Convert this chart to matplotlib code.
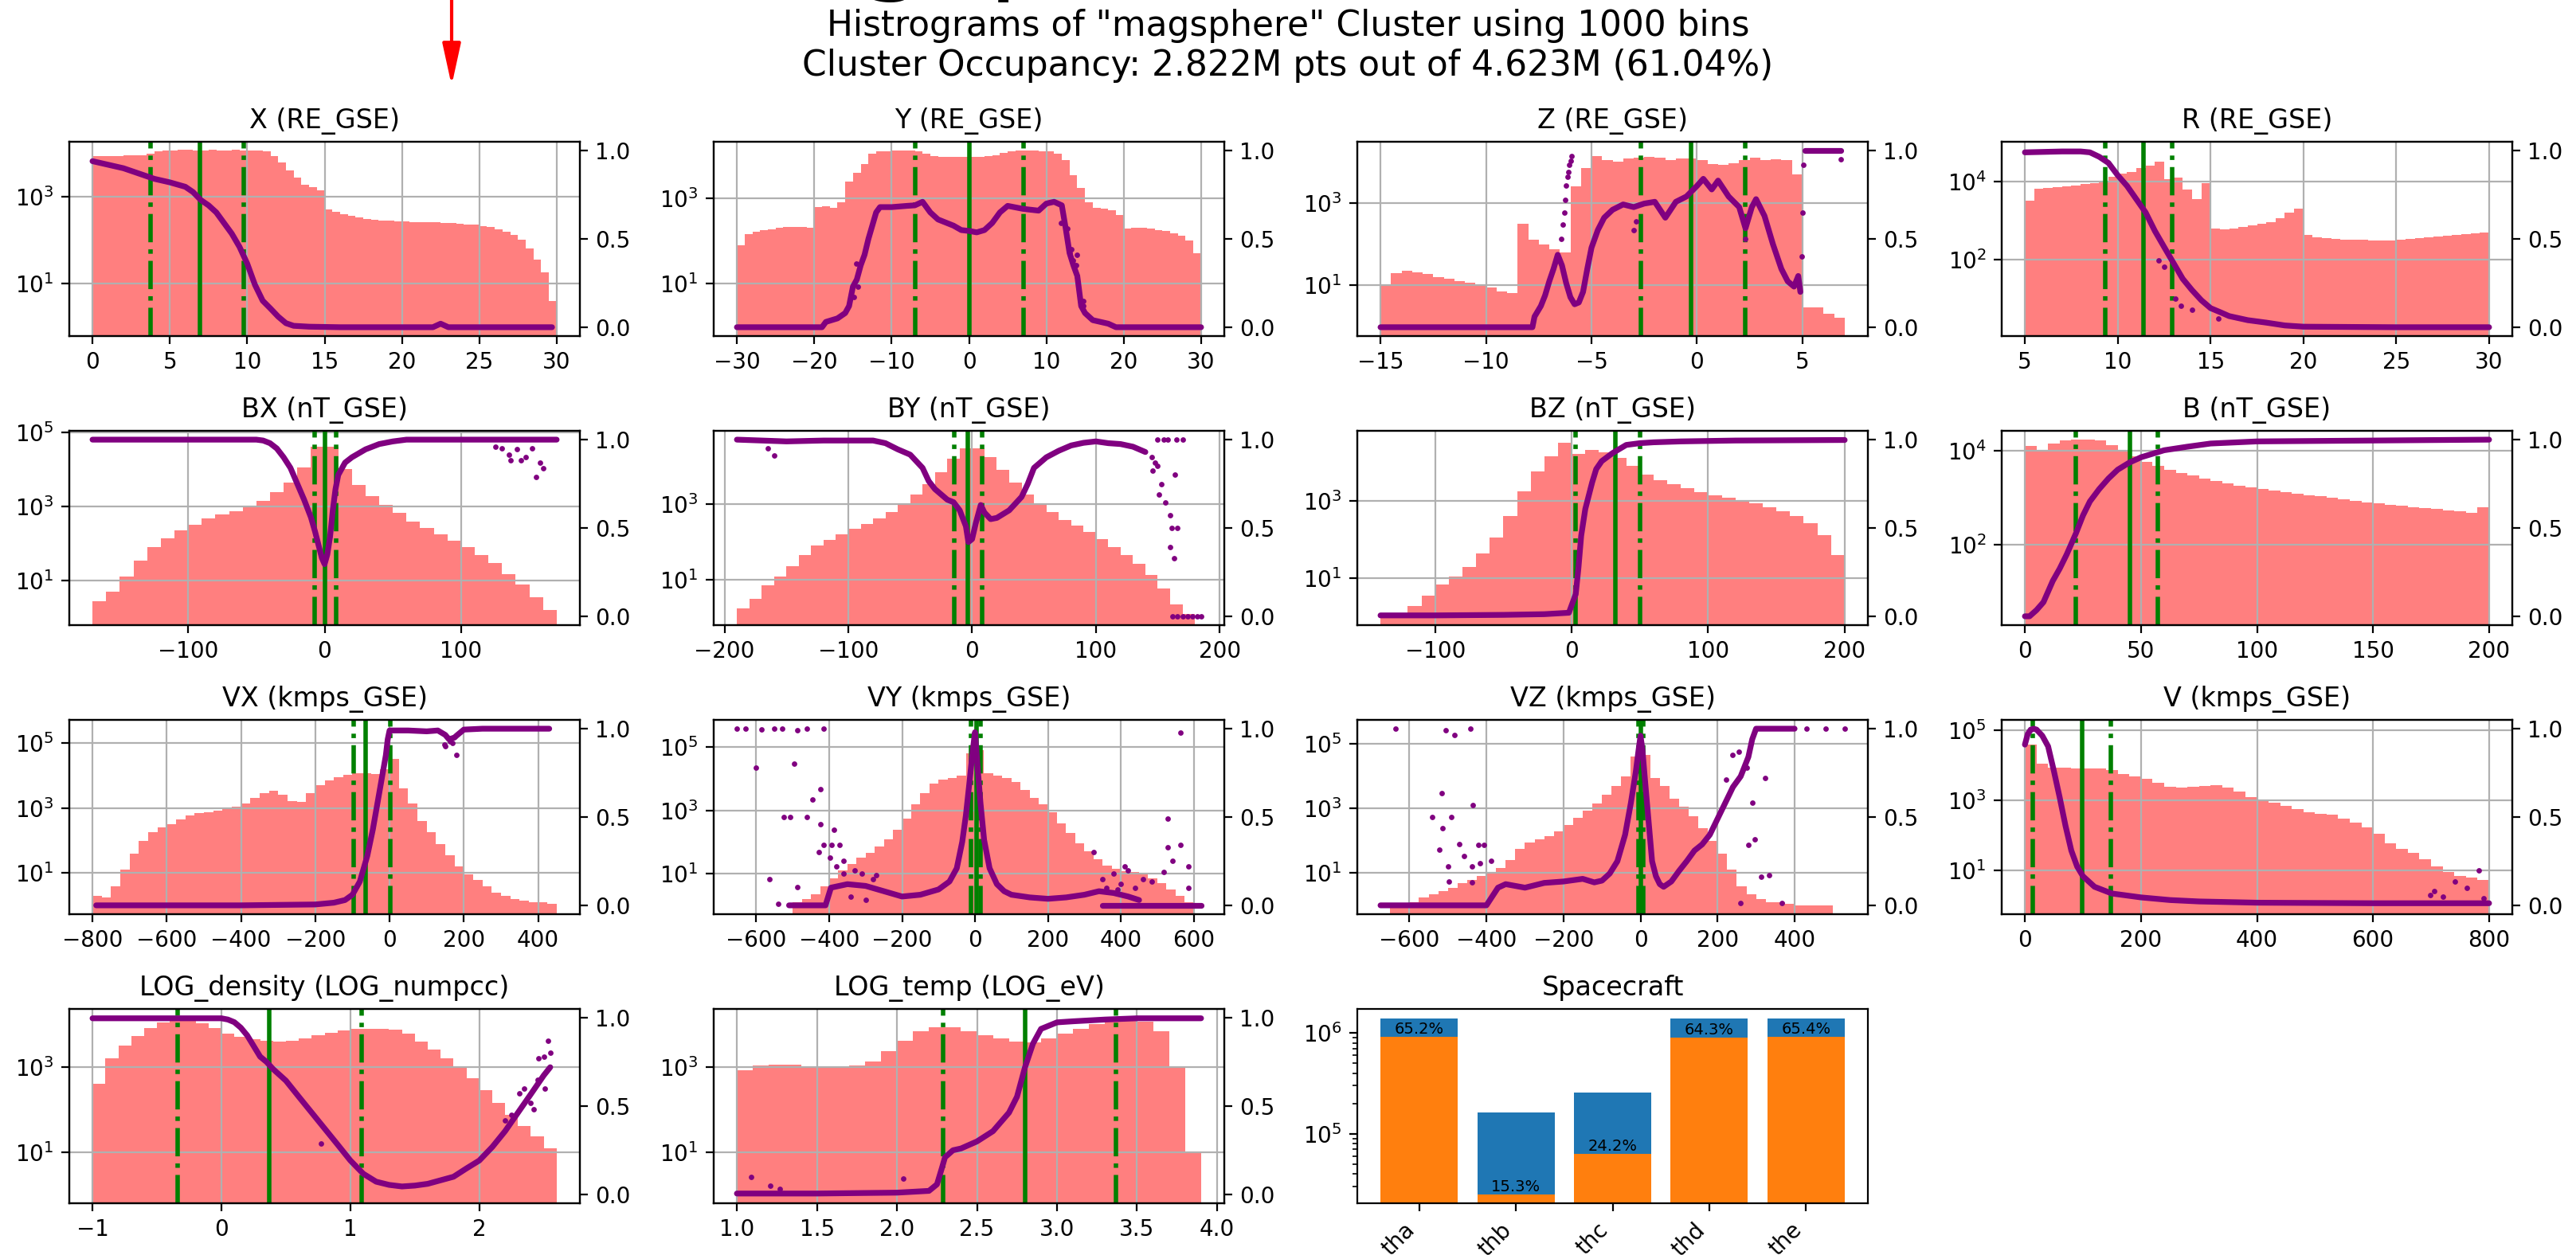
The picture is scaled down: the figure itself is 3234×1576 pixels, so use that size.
import numpy as np
import matplotlib
matplotlib.use("Agg")
import matplotlib.pyplot as plt
from matplotlib.patches import FancyArrowPatch
from matplotlib.ticker import MultipleLocator, FixedLocator, NullLocator

# ------------------------------------------------------------------ data
# histogram counts are stored as log10(count) per uniform bin over the range
X_range = (0, 30)
X_hist = [3.95, 3.95, 3.95, 3.95, 3.96, 3.96, 3.97, 4.0, 4.05, 4.07,
          4.08, 4.09, 4.09, 4.08, 4.08, 4.09, 4.08, 4.08, 4.09, 4.08, 4.08, 4.07,
          4.05, 3.95, 3.8, 3.62, 3.45, 3.28, 3.22, 3.15,
          2.72, 2.66, 2.6, 2.56, 2.52, 2.49, 2.47, 2.46, 2.45, 2.44,
          2.43, 2.42, 2.42, 2.41, 2.41, 2.4, 2.39, 2.38, 2.37, 2.36,
          2.33, 2.3, 2.26, 2.2, 2.12, 2.02, 1.8, 1.55, 1.25, 0.6]
X_frac = [(0, 0.94), (1, 0.92), (2, 0.90), (3, 0.87), (4, 0.84), (5, 0.82), (6, 0.795),
          (6.5, 0.765), (7, 0.72), (7.5, 0.69), (8, 0.65), (8.5, 0.59), (9, 0.53),
          (9.5, 0.455), (10, 0.36), (10.5, 0.24), (11, 0.15), (11.5, 0.106), (12, 0.06),
          (12.5, 0.023), (13, 0.008), (14, 0.003), (16, 0.0), (22, 0.0), (22.5, 0.02),
          (23, 0.0), (29.7, 0.0)]
X_out = []
X_q = (3.76, 6.95, 9.75)
X_ylog = (-0.22, 4.28)
X_step = 5

Y_range = (-30, 30)
Y_hist = [1.9, 2.15, 2.22, 2.25, 2.27, 2.3, 2.32, 2.33, 2.32, 2.3,
          2.8, 2.82, 2.77, 2.9, 3.4, 3.6, 3.8, 4.05, 4.1, 4.11,
          4.12, 4.12, 4.12, 4.1, 4.05, 3.99, 3.98, 3.97, 3.97, 3.97,
          3.97, 3.98, 3.99, 4.02, 4.07, 4.11, 4.12, 4.12, 4.12, 4.11,
          4.1, 4.05, 3.9, 3.55, 3.25, 2.9, 2.78, 2.75, 2.72, 2.6,
          2.28, 2.3, 2.3, 2.28, 2.26, 2.24, 2.18, 2.12, 2.0, 1.7]
Y_frac = [(-30, 0), (-19, 0), (-18.5, 0.03), (-17, 0.05), (-16, 0.08), (-15.5, 0.12),
          (-15, 0.23), (-14.5, 0.27), (-14, 0.35), (-13.5, 0.41), (-13, 0.5), (-12.5, 0.575),
          (-12, 0.65), (-11.5, 0.68), (-10, 0.68), (-8, 0.687), (-7, 0.69), (-6, 0.71),
          (-5, 0.65), (-4, 0.61), (-2, 0.575), (-1, 0.55), (0, 0.545), (1, 0.537), (2, 0.55),
          (3, 0.59), (4, 0.65), (5, 0.687), (7, 0.67), (9, 0.66), (10, 0.70), (11, 0.71),
          (12, 0.69), (12.5, 0.56), (13, 0.42), (13.5, 0.35), (14, 0.29), (14.5, 0.12),
          (15, 0.08), (16, 0.04), (17, 0.03), (18, 0.02), (19, 0), (30, 0)]
Y_out = [(11.9, 0.59), (12.7, 0.56), (13.0, 0.42), (13.2, 0.44), (14.0, 0.41), (13.8, 0.35),
         (13.4, 0.38), (14.0, 0.29), (14.8, 0.15), (14.8, 0.12), (-14.9, 0.17),
         (-14.6, 0.36), (-14.4, 0.23)]
Y_q = (-7.0, 0.1, 7.1)
Y_ylog = (-0.24, 4.33)
Y_step = 10

Z_range = (-15, 7)
Z_hist = [1.0, 1.3, 1.35, 1.32, 1.28, 1.2, 1.15, 1.1, 1.05, 1.0,
          0.95, 0.85, 0.8, 2.5, 2.1, 1.98, 1.88, 1.8,
          3.4, 3.85, 4.15, 4.05, 4.0, 4.08, 4.1, 4.12, 4.1, 4.05,
          4.08, 4.08, 4.05, 3.95, 3.92, 3.97, 4.05, 4.1, 4.05, 4.07,
          4.05, 3.7, 0.45, 0.45, 0.3, 0.2]
Z_frac = [(-15, 0), (-12, 0), (-9, 0), (-7.8, 0), (-7.7, 0.06), (-7.4, 0.12), (-7.2, 0.18),
          (-7.0, 0.26), (-6.8, 0.33), (-6.6, 0.41), (-6.4, 0.35), (-6.2, 0.25), (-6.0, 0.17),
          (-5.8, 0.13), (-5.6, 0.14), (-5.4, 0.2), (-5.2, 0.33), (-5.0, 0.45), (-4.7, 0.55),
          (-4.4, 0.62), (-4.0, 0.665), (-3.5, 0.695), (-3.0, 0.68), (-2.5, 0.7), (-2.0, 0.71),
          (-1.5, 0.62), (-1.0, 0.71), (-0.5, 0.74), (0, 0.80), (0.3, 0.84), (0.7, 0.78),
          (1.0, 0.83), (1.5, 0.74), (2.0, 0.68), (2.3, 0.56), (2.6, 0.68), (2.8, 0.725),
          (3.2, 0.63), (3.6, 0.47), (4.0, 0.33), (4.3, 0.26), (4.6, 0.23), (4.8, 0.29),
          (4.9, 0.2)]
Z_frac2 = [(5.1, 1.0), (6.8, 1.0)]
Z_out = [(-6.45, 0.5), (-6.35, 0.58), (-6.3, 0.65), (-6.25, 0.72), (-6.2, 0.8), (-6.15, 0.85),
         (-6.1, 0.88), (-6.05, 0.92), (-6.0, 0.94), (-5.95, 0.97), (-3.0, 0.55), (-2.9, 0.6),
         (2.3, 0.5), (4.95, 0.4), (5.0, 0.65), (5.05, 0.92), (6.8, 0.95)]
Z_q = (-2.67, -0.3, 2.3)
Z_ylog = (-0.24, 4.49)
Z_step = 5

R_range = (5, 30)
R_hist = [3.5, 3.82, 3.84, 3.86, 3.88, 3.9, 3.93, 3.96, 4.02, 4.12,
          4.2, 4.25, 4.35, 4.4, 4.5, 4.05, 4.1, 3.8, 3.55, 3.95,
          2.8, 2.78, 2.8, 2.84, 2.88, 2.92, 2.95, 3.05, 3.2, 3.3,
          2.62, 2.57, 2.54, 2.52, 2.51, 2.5, 2.5, 2.49, 2.49, 2.49,
          2.5, 2.52, 2.54, 2.56, 2.58, 2.6, 2.62, 2.64, 2.66, 2.69]
R_frac = [(5, 0.99), (7, 0.995), (8, 0.995), (8.5, 0.99), (9, 0.965), (9.5, 0.93), (10, 0.86),
          (10.5, 0.8), (11, 0.725), (11.5, 0.65), (12, 0.545), (12.5, 0.454), (13, 0.364),
          (13.5, 0.274), (14, 0.21), (14.5, 0.153), (15, 0.108), (15.5, 0.086), (16, 0.063),
          (17, 0.04), (18, 0.026), (19, 0.01), (20, 0.003), (25, 0.0), (30, 0.0)]
R_out = [(12.2, 0.38), (12.5, 0.34), (13.1, 0.16), (13.4, 0.12), (14.0, 0.1), (15.4, 0.05)]
R_q = (9.32, 11.39, 12.93)
R_ylog = (0.03, 5.02)
R_step = 5

BX_range = (-170, 170)
BX_hist = [0.45, 0.7, 1.1, 1.55, 1.9, 2.15, 2.35, 2.5, 2.68, 2.78,
           2.88, 2.98, 3.15, 3.38, 3.65, 4.05, 4.6,
           4.6, 4.0, 3.58, 3.27, 3.05, 2.82, 2.6, 2.42, 2.25,
           2.08, 1.9, 1.7, 1.48, 1.18, 0.9, 0.55, 0.2]
BX_frac = [(-170, 1.0), (-50, 1.0), (-45, 0.995), (-40, 0.98), (-35, 0.95), (-30, 0.9),
           (-25, 0.84), (-20, 0.75), (-15, 0.66), (-10, 0.56), (-7, 0.48), (-4, 0.39),
           (-2, 0.33), (0, 0.295), (2, 0.35), (4, 0.45), (6, 0.6), (8, 0.72), (10, 0.8),
           (15, 0.87), (20, 0.9), (30, 0.945), (40, 0.975), (50, 0.99), (60, 1.0), (170, 1.0)]
BX_out = [(135, 0.915), (136.5, 0.885), (141, 0.945), (144, 0.885), (147.5, 0.9), (152, 0.95),
          (155, 0.79), (158, 0.87), (160, 0.84), (130, 0.95), (125, 0.96)]
BX_q = (-7.2, 0.0, 8.4)
BX_ylog = (-0.2, 5.04)
BX_step = 100

BY_range = (-190, 180)
BY_hist = [0.25, 0.5, 0.85, 1.08, 1.35, 1.65, 1.9, 2.06, 2.2, 2.34,
           2.48, 2.62, 2.78, 2.98, 3.24, 3.52, 3.83, 4.18, 4.45, 4.45,
           4.22, 3.9, 3.55, 3.24, 3.0, 2.78, 2.58, 2.42, 2.25, 2.08,
           1.87, 1.65, 1.42, 1.12, 0.78, 0.35, 0.1]
BY_frac = [(-190, 1.0), (-170, 0.995), (-150, 0.99), (-120, 0.995), (-100, 0.995),
           (-80, 0.995), (-70, 0.98), (-60, 0.945), (-50, 0.915), (-40, 0.84), (-35, 0.765),
           (-30, 0.72), (-20, 0.66), (-15, 0.646), (-10, 0.6), (-5, 0.51), (-3, 0.42),
           (0, 0.437), (3, 0.527), (7, 0.63), (10, 0.587), (15, 0.55), (20, 0.557), (30, 0.6),
           (40, 0.676), (45, 0.75), (50, 0.84), (60, 0.9), (70, 0.937), (80, 0.967),
           (90, 0.982), (100, 0.99), (110, 0.98), (120, 0.975), (130, 0.96), (140, 0.93)]
BY_out = [(-165, 0.95), (-160, 0.91), (146, 0.825), (151, 0.69), (153, 0.75), (156, 0.646),
          (160, 0.57), (161, 0.5), (160, 0.39), (163, 0.33), (166, 0.5), (164, 0.8),
          (150, 1.0), (155, 1.0), (158, 1.0), (165, 1.0), (170, 1.0), (145, 0.9),
          (148, 0.87), (150, 0.85), (162, 0.0), (166, 0.0), (170, 0.0), (174, 0.0),
          (178, 0.0), (182, 0.0), (185, 0.0)]
BY_q = (-14.5, -3.4, 8.4)
BY_ylog = (-0.19, 4.92)
BY_step = 100

BZ_range = (-140, 200)
BZ_hist = [0.0, 0.1, 0.3, 0.55, 0.85, 1.05, 1.3, 1.65, 2.05, 2.6,
           3.25, 3.75, 4.15, 4.5, 4.2, 4.3, 4.25, 4.1, 3.9, 3.68,
           3.52, 3.42, 3.32, 3.22, 3.14, 3.07, 3.0, 2.93, 2.84, 2.74,
           2.6, 2.42, 2.12, 1.6]
BZ_frac = [(-140, 0.005), (-100, 0.005), (-50, 0.008), (-20, 0.012), (-2, 0.02), (3, 0.125),
           (5, 0.275), (7, 0.456), (10, 0.607), (12, 0.667), (15, 0.757), (18, 0.833),
           (22, 0.878), (30, 0.924), (40, 0.97), (50, 0.98), (60, 0.985), (80, 0.99),
           (120, 0.995), (200, 0.998)]
BZ_out = []
BZ_q = (3.0, 32.0, 50.0)
BZ_ylog = (-0.2, 4.8)
BZ_step = 100

B_range = (0, 200)
B_hist = [4.1, 3.98, 4.15, 4.21, 4.24, 4.24, 4.21, 4.12, 4.0, 3.88,
          3.77, 3.68, 3.6, 3.53, 3.47, 3.4, 3.35, 3.3, 3.26, 3.22,
          3.19, 3.16, 3.12, 3.09, 3.06, 3.03, 3.0, 2.97, 2.94, 2.91,
          2.88, 2.85, 2.83, 2.8, 2.78, 2.76, 2.74, 2.71, 2.68, 2.8]
B_frac = [(0, 0.0), (2, 0.0), (5, 0.035), (8, 0.08), (10, 0.14), (12, 0.2), (15, 0.27),
          (18, 0.35), (20, 0.41), (22, 0.47), (25, 0.57), (28, 0.65), (32, 0.72), (36, 0.78),
          (40, 0.83), (45, 0.87), (50, 0.9), (60, 0.94), (70, 0.96), (80, 0.978),
          (100, 0.99), (150, 0.995), (200, 1.0)]
B_out = []
B_q = (21.9, 45.1, 57.1)
B_ylog = (0.305, 4.42)
B_step = 50
B_yticks = [1e2, 1e4]

VX_range = (-800, 450)
VX_hist = [0.3, 0.25, 0.6, 1.1, 1.6, 2.0, 2.25, 2.4, 2.5, 2.65,
           2.78, 2.84, 2.88, 2.92, 2.97, 3.05, 3.15, 3.3, 3.45, 3.52,
           3.4, 3.22, 3.2, 3.45, 3.7, 3.85, 3.95, 4.02, 4.07, 4.06,
           4.05, 4.2, 4.5, 3.6, 3.15, 2.6, 2.25, 1.9, 1.55, 1.2,
           0.95, 0.8, 0.6, 0.4, 0.3, 0.2, 0.15, 0.1, 0.1, 0.05]
VX_frac = [(-790, 0.0), (-400, 0.0), (-200, 0.005), (-150, 0.015), (-120, 0.03), (-100, 0.06),
           (-80, 0.135), (-60, 0.28), (-45, 0.43), (-30, 0.61), (-20, 0.73), (-10, 0.85),
           (-5, 0.94), (0, 0.99), (10, 0.99), (50, 0.99), (100, 0.985), (130, 0.99),
           (150, 0.965), (160, 0.94), (175, 0.95), (180, 0.96), (200, 0.995), (250, 1.0),
           (430, 1.0)]
VX_out = [(148, 0.91), (150, 0.9), (163, 0.93), (180, 0.85), (170, 0.92)]
VX_q = (-96, -65, 2)
VX_ylog = (-0.265, 5.71)
VX_step = 200

VY_range = (-500, 600)
VY_hist = [0.1, 0.2, 0.35, 0.6, 0.85, 1.1, 1.3, 1.5, 1.65, 1.85,
           2.1, 2.4, 2.75, 3.2, 3.55, 3.85, 3.97, 4.02, 4.1, 4.8,
           4.9, 4.18, 4.1, 4.02, 3.9, 3.65, 3.4, 3.2, 2.95, 2.6,
           2.3, 1.95, 1.7, 1.45, 1.25, 1.15, 1.08, 1.05, 1.0, 0.85,
           0.7, 0.5, 0.3, 0.1]
VY_frac = [(-510, 0.0), (-410, 0.0), (-395, 0.1), (-350, 0.12), (-300, 0.11), (-250, 0.08),
           (-200, 0.05), (-150, 0.06), (-100, 0.09), (-70, 0.135), (-50, 0.21), (-35, 0.36),
           (-25, 0.51), (-15, 0.7), (-8, 0.84), (-3, 0.93), (0, 0.98), (3, 0.9), (8, 0.76),
           (15, 0.58), (25, 0.37), (40, 0.21), (60, 0.12), (80, 0.08), (100, 0.06),
           (150, 0.045), (200, 0.037), (250, 0.045), (300, 0.06), (340, 0.08), (380, 0.07),
           (420, 0.05), (450, 0.03)]
VY_frac2 = [(350, 0.0), (620, 0.0)]
VY_out = [(-653, 1.0), (-630, 1.0), (-585, 0.995), (-551, 1.0), (-529, 1.0), (-488, 0.99),
          (-461, 1.0), (-416, 1.0), (-601, 0.78), (-495, 0.8), (-563, 0.15), (-488, 0.105),
          (-540, 0.01), (-524, 0.5), (-506, 0.5), (-461, 0.5), (-425, 0.46), (-423, 0.66),
          (-446, 0.6), (-387, 0.43), (-416, 0.34), (-394, 0.34), (-371, 0.34), (-428, 0.3),
          (-398, 0.27), (-380, 0.22), (-360, 0.25), (-330, 0.2), (-310, 0.18), (-280, 0.15),
          (-340, 0.05), (-300, 0.03), (-270, 0.17), (-360, 0.18),
          (326, 0.3), (529, 0.49), (529, 0.33), (563, 0.34), (541, 0.25), (586, 0.22),
          (586, 0.1), (518, 0.19), (563, 0.98), (484, 0.135), (350, 0.15), (380, 0.18),
          (400, 0.12), (420, 0.2), (440, 0.1), (460, 0.15), (360, 0.1), (410, 0.22),
          (390, 0.09)]
VY_q = (-11, 4, 16)
VY_ylog = (-0.27, 5.85)
VY_step = 200

VZ_range = (-650, 500)
VZ_hist = [0.0, 0.0, 0.1, 0.25, 0.35, 0.45, 0.55, 0.68, 0.8, 0.9,
           1.0, 1.15, 1.4, 1.75, 1.95, 2.05, 2.15, 2.3, 2.5, 2.7,
           2.92, 3.15, 3.42, 3.7, 4.0, 4.6, 4.65, 3.95, 3.7, 3.3,
           3.05, 2.75, 2.4, 2.0, 1.6, 1.1, 0.6, 0.35, 0.2, 0.1,
           0.1, 0.05, 0.0, 0.0, 0.0, 0.0]
VZ_frac = [(-675, 0.0), (-500, 0.0), (-400, 0.0), (-370, 0.1), (-350, 0.12), (-300, 0.1),
           (-250, 0.127), (-200, 0.135), (-150, 0.15), (-120, 0.13), (-100, 0.14),
           (-80, 0.18), (-60, 0.25), (-40, 0.4), (-25, 0.58), (-12, 0.76), (-5, 0.88),
           (0, 0.96), (5, 0.88), (12, 0.7), (20, 0.5), (30, 0.25), (40, 0.165), (50, 0.12),
           (60, 0.105), (80, 0.135), (100, 0.195), (120, 0.25), (140, 0.31), (160, 0.345),
           (180, 0.4), (200, 0.49), (220, 0.58), (240, 0.67), (260, 0.73), (280, 0.84),
           (290, 0.94), (300, 1.0), (400, 1.0)]
VZ_out = [(-637, 1.0), (-505, 0.99), (-484, 0.965), (-442, 1.0), (-516, 0.635), (-435, 0.567),
          (-541, 0.5), (-492, 0.5), (-513, 0.435), (-471, 0.345), (-522, 0.315), (-420, 0.34),
          (-406, 0.34), (-458, 0.28), (-500, 0.22), (-437, 0.22), (-497, 0.135), (-416, 0.24),
          (-388, 0.25), (-437, 0.13), (313, 0.16), (259, 0.015), (366, 0.015), (334, 0.17),
          (281, 0.34), (296, 0.375), (238, 0.85), (255, 0.87), (276, 0.78), (291, 0.58),
          (323, 0.72), (223, 0.71), (530, 1.0), (480, 1.0), (430, 1.0)]
VZ_q = (-6, 0, 8)
VZ_ylog = (-0.27, 5.74)
VZ_step = 200

V_range = (0, 800)
V_hist = [4.6, 4.05, 3.93, 3.93, 3.92, 3.92, 3.92, 3.86, 3.75, 3.69,
          3.62, 3.51, 3.4, 3.36, 3.38, 3.41, 3.43, 3.37, 3.26, 3.1,
          2.99, 2.94, 2.84, 2.75, 2.66, 2.62, 2.6, 2.47, 2.36, 2.24,
          2.05, 1.78, 1.62, 1.5, 1.32, 1.12, 0.95, 0.85, 0.8, 0.72]
V_frac = [(0, 0.91), (5, 0.97), (10, 0.995), (15, 1.0), (20, 0.995), (30, 0.96), (40, 0.9),
          (50, 0.76), (60, 0.61), (70, 0.45), (80, 0.31), (90, 0.22), (100, 0.165),
          (120, 0.105), (150, 0.067), (200, 0.045), (250, 0.03), (300, 0.022), (400, 0.015),
          (600, 0.012), (800, 0.012)]
V_out = [(698, 0.06), (705, 0.08), (762, 0.1), (783, 0.2), (741, 0.135), (720, 0.05),
         (790, 0.04)]
V_q = (14, 99, 148)
V_ylog = (-0.25, 5.3)
V_step = 200

DEN_range = (-1.0, 2.6)
DEN_hist = [2.6, 3.2, 3.5, 3.72, 3.9, 4.03, 4.1, 4.1, 4.02, 3.9,
            3.78, 3.7, 3.64, 3.6, 3.58, 3.6, 3.66, 3.73, 3.8, 3.85,
            3.88, 3.89, 3.89, 3.87, 3.77, 3.58, 3.4, 3.2, 3.0, 2.74,
            2.45, 2.15, 1.87, 1.62, 1.37, 1.1]
DEN_frac = [(-1, 0.997), (0, 0.997), (0.05, 0.99), (0.1, 0.975), (0.15, 0.944), (0.2, 0.9),
            (0.25, 0.84), (0.3, 0.78), (0.35, 0.75), (0.4, 0.71), (0.5, 0.644), (0.6, 0.553),
            (0.7, 0.463), (0.8, 0.373), (0.9, 0.283), (1.0, 0.192), (1.1, 0.117),
            (1.2, 0.072), (1.3, 0.054), (1.4, 0.045), (1.5, 0.05), (1.6, 0.06), (1.7, 0.08),
            (1.8, 0.1), (1.9, 0.147), (2.0, 0.192), (2.1, 0.268), (2.2, 0.358), (2.3, 0.463),
            (2.4, 0.568), (2.5, 0.674), (2.55, 0.72)]
DEN_out = [(2.53, 0.87), (2.46, 0.77), (2.31, 0.57), (2.4, 0.52), (2.51, 0.6), (2.25, 0.45),
           (0.77, 0.29), (2.35, 0.6), (2.45, 0.65), (2.5, 0.78), (2.55, 0.8), (2.2, 0.42),
           (2.42, 0.48)]
DEN_q = (-0.34, 0.37, 1.09)
DEN_ylog = (-0.19, 4.35)
DEN_step = 1

TEMP_range = (1.0, 3.9)
TEMP_hist = [2.92, 3.02, 3.05, 3.04, 3.0, 2.98, 2.99, 3.02, 3.12, 3.36,
             3.6, 3.82, 3.93, 3.92, 3.82, 3.73, 3.66, 3.58, 3.57, 3.67,
             3.78, 3.88, 3.99, 4.08, 4.11, 4.06, 3.82, 3.0, 1.0]
TEMP_frac = [(1.0, 0.005), (1.5, 0.005), (2.0, 0.01), (2.2, 0.02), (2.25, 0.057),
             (2.28, 0.147), (2.3, 0.21), (2.35, 0.25), (2.4, 0.26), (2.5, 0.3), (2.6, 0.358),
             (2.7, 0.463), (2.75, 0.553), (2.8, 0.72), (2.85, 0.854), (2.9, 0.937),
             (3.0, 0.974), (3.1, 0.98), (3.3, 0.99), (3.5, 0.997), (3.9, 0.997)]
TEMP_out = [(1.09, 0.1), (1.21, 0.05), (1.27, 0.03), (2.04, 0.09)]
TEMP_q = (2.29, 2.8, 3.37)
TEMP_ylog = (-0.19, 4.35)
TEMP_step = 0.5

SC_names = ["tha", "thb", "thc", "thd", "the"]
SC_total = [1.401e6, 1.62e5, 2.59e5, 1.401e6, 1.401e6]
SC_cluster = [9.135e5, 2.48e4, 6.27e4, 9.01e5, 9.16e5]
SC_ylim = (2.04e4, 1.74e6)

SUPTITLE = ('Histrograms of "magsphere" Cluster using 1000 bins\n'
            'Cluster Occupancy: 2.822M pts out of 4.623M (61.04%)')
BIG_TITLE = "magsphere"

panels = [
    ("X (RE_GSE)", X_range, X_hist, [X_frac], X_out, X_q, X_ylog, X_step, None),
    ("Y (RE_GSE)", Y_range, Y_hist, [Y_frac], Y_out, Y_q, Y_ylog, Y_step, None),
    ("Z (RE_GSE)", Z_range, Z_hist, [Z_frac, Z_frac2], Z_out, Z_q, Z_ylog, Z_step, None),
    ("R (RE_GSE)", R_range, R_hist, [R_frac], R_out, R_q, R_ylog, R_step, None),
    ("BX (nT_GSE)", BX_range, BX_hist, [BX_frac], BX_out, BX_q, BX_ylog, BX_step, None),
    ("BY (nT_GSE)", BY_range, BY_hist, [BY_frac], BY_out, BY_q, BY_ylog, BY_step, None),
    ("BZ (nT_GSE)", BZ_range, BZ_hist, [BZ_frac], BZ_out, BZ_q, BZ_ylog, BZ_step, None),
    ("B (nT_GSE)", B_range, B_hist, [B_frac], B_out, B_q, B_ylog, B_step, B_yticks),
    ("VX (kmps_GSE)", VX_range, VX_hist, [VX_frac], VX_out, VX_q, VX_ylog, VX_step, None),
    ("VY (kmps_GSE)", VY_range, VY_hist, [VY_frac, VY_frac2], VY_out, VY_q, VY_ylog, VY_step,
     None),
    ("VZ (kmps_GSE)", VZ_range, VZ_hist, [VZ_frac], VZ_out, VZ_q, VZ_ylog, VZ_step, None),
    ("V (kmps_GSE)", V_range, V_hist, [V_frac], V_out, V_q, V_ylog, V_step, None),
    ("LOG_density (LOG_numpcc)", DEN_range, DEN_hist, [DEN_frac], DEN_out, DEN_q, DEN_ylog,
     DEN_step, None),
    ("LOG_temp (LOG_eV)", TEMP_range, TEMP_hist, [TEMP_frac], TEMP_out, TEMP_q, TEMP_ylog,
     TEMP_step, None),
]

# ------------------------------------------------------------------ layout
W, H = 3234, 1576
DPI = 200
fig = plt.figure(figsize=(W / DPI, H / DPI), dpi=DPI)

COL_LEFT = [87, 896, 1704, 2513]
ROW_TOP = [178, 541, 904, 1267]
AX_W, AX_H = 641, 244


def rect(r, c):
    return [COL_LEFT[c] / W, 1 - (ROW_TOP[r] + AX_H) / H, AX_W / W, AX_H / H]


for i, (title, rng, hist, curves, outs, q, ylog, step, yt) in enumerate(panels):
    r, c = divmod(i, 4)
    ax = fig.add_axes(rect(r, c))
    edges = np.linspace(rng[0], rng[1], len(hist) + 1)
    counts = 10.0 ** np.asarray(hist)
    ax.stairs(counts, edges, fill=True, color="red", alpha=0.5, baseline=1e-3,
              linewidth=0)
    ax.set_yscale("log")
    ax.set_ylim(10 ** ylog[0], 10 ** ylog[1])
    if yt is not None:
        ax.yaxis.set_major_locator(FixedLocator(yt))
        ax.yaxis.set_minor_locator(NullLocator())
    ax.xaxis.set_major_locator(MultipleLocator(step))
    ax.grid(True)
    ax.axvline(q[0], color="green", ls="-.", lw=2)
    ax.axvline(q[1], color="green", ls="-", lw=2)
    ax.axvline(q[2], color="green", ls="-.", lw=2)
    ax.set_title(title)
    ax2 = ax.twinx()
    for seg in curves:
        xs, ys = zip(*seg)
        ax2.plot(xs, ys, color="purple", lw=2.6, solid_capstyle="round")
    if outs:
        ox, oy = zip(*outs)
        ax2.scatter(ox, oy, s=6, color="purple", linewidths=0)
    ax2.set_ylim(-0.05, 1.05)
    ax2.set_yticks([0.0, 0.5, 1.0])

# spacecraft panel
axs = fig.add_axes(rect(3, 2))
xpos = np.arange(len(SC_names))
axs.bar(xpos, SC_total, color="tab:blue")
axs.bar(xpos, SC_cluster, color="tab:orange")
axs.set_yscale("log")
axs.set_ylim(*SC_ylim)
for xi, tot, cl in zip(xpos, SC_total, SC_cluster):
    axs.text(xi, cl, f"{100 * cl / tot:.1f}%", ha="center", va="bottom", fontsize=7)
axs.set_xticks(xpos)
axs.set_xticklabels(SC_names, rotation=45, ha="right")
axs.set_title("Spacecraft")

# titles
fig.suptitle(SUPTITLE, fontsize=15.8, y=0.993, va="top")
fig.text(852 / W, 1 + 27 / H, BIG_TITLE, fontsize=51, ha="left", va="baseline")

# red arrow coming in from above the canvas
arrow = FancyArrowPatch((567 / W, 1 + 10 / H), (567 / W, 1 - 113 / H),
                        transform=fig.transFigure,
                        arrowstyle="-|>,head_length=16,head_width=3.5",
                        mutation_scale=1, color="red", lw=1.5)
fig.add_artist(arrow)

fig.savefig("out.png", dpi=DPI)
